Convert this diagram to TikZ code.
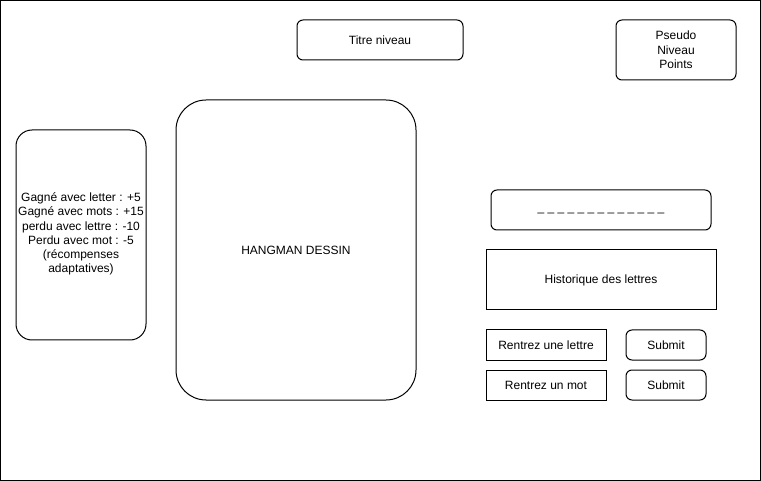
\documentclass[tikz,border=0pt]{standalone}
\usepackage{fontspec}
\setmainfont{Liberation Sans}
\begin{document}
\begin{tikzpicture}[x=1pt,y=-1pt,
  every node/.style={font=\fontsize{12}{14.3}\selectfont, align=center, inner sep=0pt},
  box/.style={draw, line width=1pt},
  rbox/.style={draw, line width=1pt, rounded corners=6pt}]
\useasboundingbox (0,0) rectangle (761,481);
\draw[line width=1pt] (0.5,0.5) rectangle (760.5,480.5);
\draw[rbox] (297,20) rectangle (463,60);
\node (titre) at (380,40) {Titre niveau};
\draw[rbox] (616,20) rectangle (736,80);
\node (pseudo) at (676,50) {Pseudo\\Niveau\\Points};
\draw[box, rounded corners=16pt] (16,130) rectangle (146,340);
\node (gains) at (81,234) {Gagné avec letter : +5\\Gagné avec mots : +15\\perdu avec lettre : -10\\Perdu avec mot : -5\\(récompenses\\adaptatives)};
\draw[box, rounded corners=30pt] (176,100) rectangle (416,400);
\node (hangman) at (296,250) {HANGMAN DESSIN};
\draw[rbox] (491,190) rectangle (711,230);
\node (mot) at (601,213) {\_ \_ \_ \_ \_ \_ \_ \_ \_ \_ \_ \_ \_};
\draw[box] (486,250) rectangle (716,310);
\node (hist) at (601,280) {Historique des lettres};
\draw[box] (486,330) rectangle (606,360);
\node (lettre) at (546,345) {Rentrez une lettre};
\draw[rbox] (626,330) rectangle (706,360);
\node (sub1) at (666,345) {Submit};
\draw[box] (486,370) rectangle (606,400);
\node (motin) at (546,385) {Rentrez un mot};
\draw[rbox] (626,370) rectangle (706,400);
\node (sub2) at (666,385) {Submit};
\end{tikzpicture}
\end{document}
